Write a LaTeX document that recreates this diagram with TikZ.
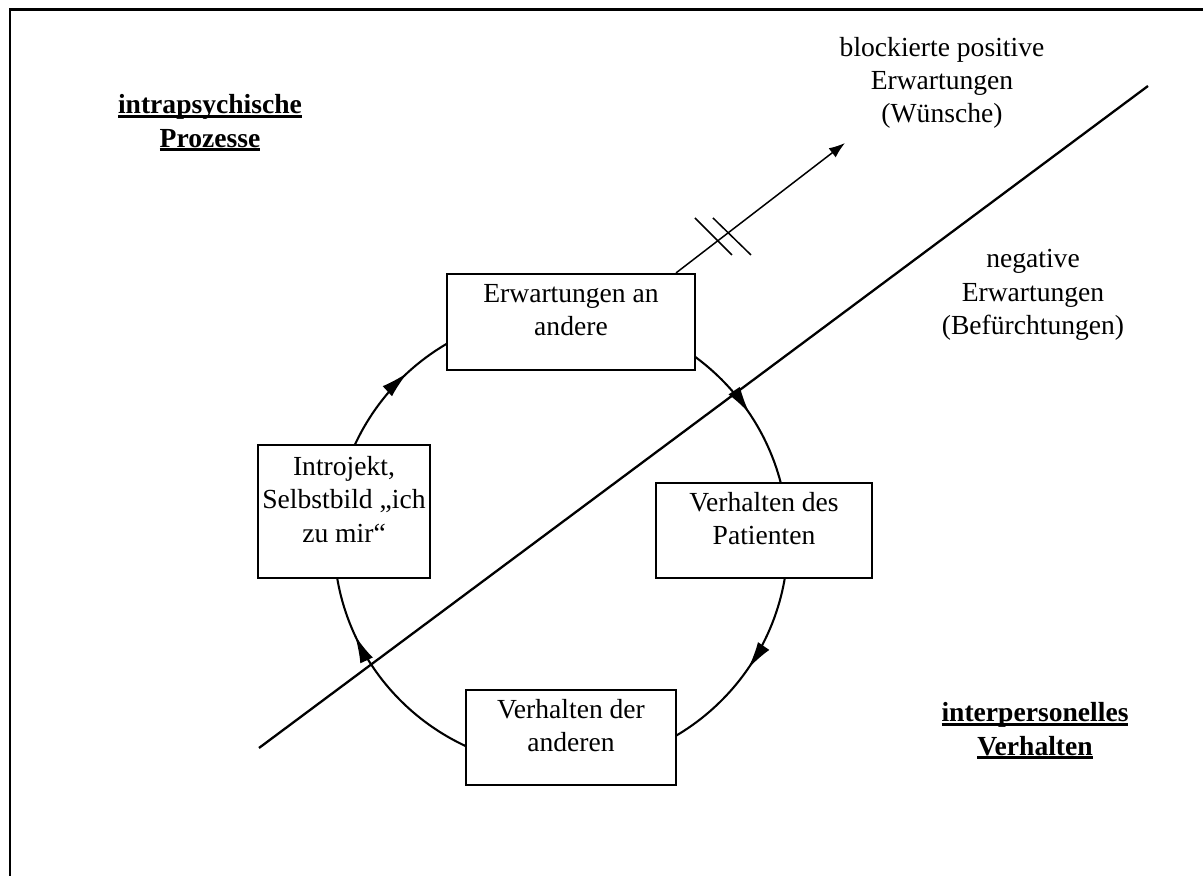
\documentclass[tikz,border=0pt]{standalone}
\usepackage{fontspec}
\setmainfont{Liberation Serif}
\usetikzlibrary{arrows.meta,calc,decorations.markings}

% heavy underline as in the original
\newcommand\heavyul[1]{\setbox0\hbox{#1}\rlap{\rule[-1.9pt]{\wd0}{1.3pt}}\box0}

\begin{document}
\begin{tikzpicture}[x=0.435pt, y=0.435pt,
  font=\fontsize{12pt}{14.5pt}\selectfont,
  box/.style={draw, line width=0.9pt, fill=white, align=center, inner sep=1pt},
  heading/.style={align=center, font=\fontsize{12pt}{14.5pt}\selectfont\bfseries},
  note/.style={align=center},
  cycle/.style={line width=0.9pt, postaction={decorate}, decoration={markings,
    mark=at position 0.132 with {\arrow{Latex[length=12pt,width=6pt]}},
    mark=at position 0.406 with {\arrow{Latex[length=12pt,width=6pt]}},
    mark=at position 0.596 with {\arrow{Latex[length=12pt,width=6pt]}},
    mark=at position 0.931 with {\arrow{Latex[length=12pt,width=6pt]}}}}]
  \useasboundingbox (0,0) rectangle (1203,876);
  % frame
  \draw[line width=1.3pt] (10,0) -- (10,866) -- (1203,866);

  % the cycle
  \coordinate (mid) at (561,336);
  \draw[cycle] ($(mid)+(180:227)$) arc[start angle=180, end angle=-180, radius=227];

  \node[box, minimum width=107.9pt, minimum height=41.8pt] (erw) at (571,554) {Erwartungen an\\andere\\[-4pt]~};
  \node[box, minimum width=94pt, minimum height=41.3pt] (pat) at (764,345.5) {Verhalten des\\Patienten\\[-4pt]~};
  \node[box, minimum width=91.4pt, minimum height=41.3pt] (and) at (571,138.5) {Verhalten der\\anderen\\[-4pt]~};
  \node[box, minimum width=74.8pt, minimum height=57.9pt] (intro) at (344,364.5) {Introjekt,\\Selbstbild „ich\\zu mir“\\[-4pt]~};

  % dividing line
  \coordinate (low) at (259,128);
  \coordinate (high) at (1148,790);
  \draw[line width=1pt] (low) -- (high);

  % labels
  \node[heading] (intra) at (210,753) {\heavyul{intrapsychische}\\\heavyul{Prozesse}};
  \node[heading] (inter) at (1035,145) {\heavyul{interpersonelles}\\\heavyul{Verhalten}};
  \node[note] (wish) at (942,793) {blockierte positive\\Erwartungen\\(Wünsche)};
  \node[note] (fear) at (1033,581) {negative\\Erwartungen\\(Befürchtungen)};

  % blocked wish
  \coordinate (tip) at (845,733);
  \draw[line width=0.65pt, -{Latex[length=7pt,width=5pt]}] ($(erw.north east)+(-20,0)$) -- (tip);
  \draw[line width=0.65pt] (695,658) -- (732,621);
  \draw[line width=0.65pt] (713,658) -- (751,621);
\end{tikzpicture}
\end{document}
